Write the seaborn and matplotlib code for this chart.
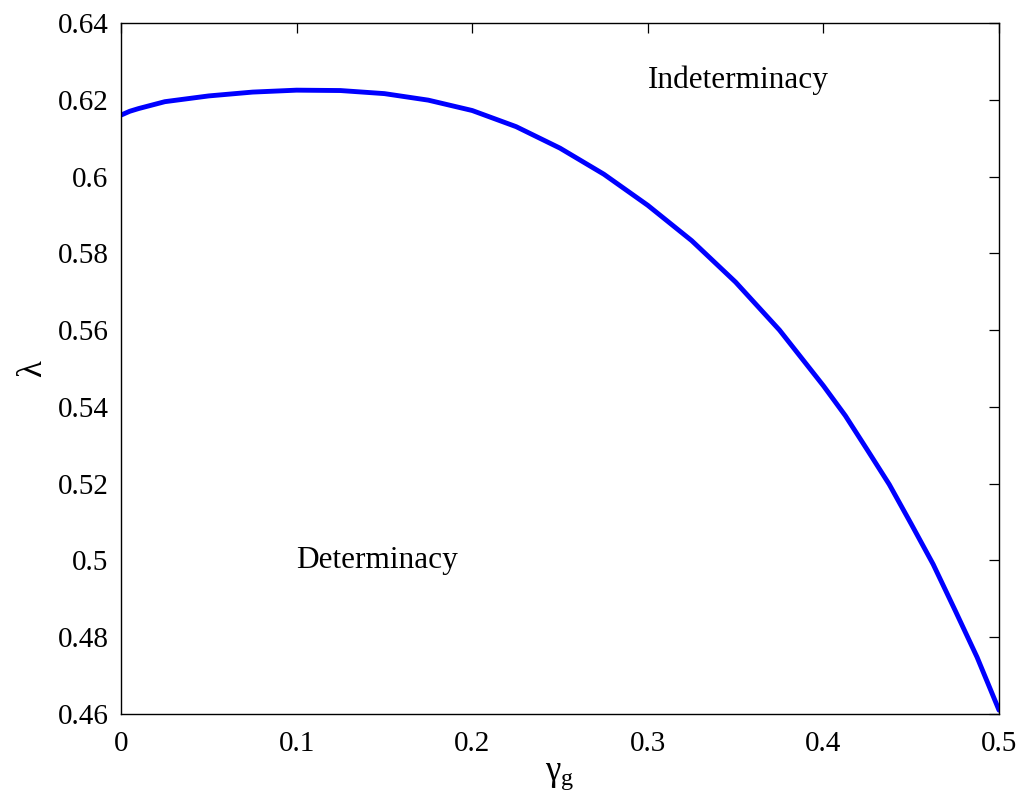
import matplotlib
matplotlib.use("Agg")
import matplotlib.pyplot as plt
import seaborn as sns
import pandas as pd

gamma_g = [0.0, 0.005, 0.01, 0.025, 0.05, 0.075, 0.1, 0.125, 0.15, 0.175, 0.2,
           0.225, 0.25, 0.275, 0.3, 0.325, 0.35, 0.375, 0.4, 0.4125, 0.425,
           0.4375, 0.45, 0.4625, 0.475, 0.4875, 0.5]
lam = [0.6160, 0.6170, 0.6177, 0.6195, 0.6210, 0.6220, 0.6225, 0.6224, 0.6216,
       0.6199, 0.6172, 0.6130, 0.6074, 0.6006, 0.5925, 0.5833, 0.5725, 0.5600,
       0.5455, 0.5377, 0.5288, 0.5198, 0.5095, 0.4990, 0.4870, 0.4748, 0.4610]

x_ticks = [0, 0.1, 0.2, 0.3, 0.4, 0.5]
x_tick_labels = ["0", "0.1", "0.2", "0.3", "0.4", "0.5"]
y_ticks = [0.46, 0.48, 0.5, 0.52, 0.54, 0.56, 0.58, 0.6, 0.62, 0.64]
y_tick_labels = ["0.46", "0.48", "0.5", "0.52", "0.54", "0.56", "0.58", "0.6", "0.62", "0.64"]

region_labels = ["Indeterminacy", "Determinacy"]
region_x = [0.3, 0.1]
region_y = [0.625, 0.5]

sns.set_style("white")
plt.rcParams["font.family"] = ["Liberation Serif", "DejaVu Serif"]
plt.rcParams["mathtext.fontset"] = "custom"
plt.rcParams["mathtext.rm"] = "Liberation Serif"
plt.rcParams["mathtext.it"] = "Liberation Serif"
plt.rcParams["text.color"] = "black"
plt.rcParams["axes.labelcolor"] = "black"

df = pd.DataFrame({"gamma_g": gamma_g, "lambda": lam})

fig = plt.figure(figsize=(10.19, 8.09), dpi=100)
ax = fig.add_axes([0.1187, 0.1174, 0.8617, 0.8542])
sns.lineplot(data=df, x="gamma_g", y="lambda", ax=ax, color=(0, 0, 1),
             linewidth=3.5, solid_joinstyle="round", solid_capstyle="round")

ax.set_xlim(0, 0.5)
ax.set_ylim(0.46, 0.64)
ax.set_xticks(x_ticks)
ax.set_xticklabels(x_tick_labels)
ax.set_yticks(y_ticks)
ax.set_yticklabels(y_tick_labels)
ax.tick_params(direction="in", length=7, width=0.9, top=True, right=True,
               labelsize=21, colors="black")
ax.tick_params(axis="x", pad=12)
ax.tick_params(axis="y", pad=9)
for s in ax.spines.values():
    s.set_visible(True)
    s.set_color("black")
    s.set_linewidth(1.0)

ax.set_xlabel(r"$\gamma_{\mathrm{g}}$", fontsize=25, labelpad=2)
ax.set_ylabel("λ", fontsize=25, labelpad=6)

for t, xx, yy in zip(region_labels, region_x, region_y):
    ax.text(xx, yy, t, fontsize=22.5, ha="left", va="center", color="black")

fig.savefig("out.png", dpi=100)
